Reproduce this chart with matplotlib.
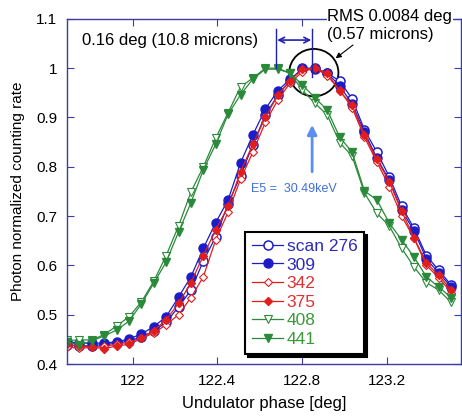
import numpy as np
import matplotlib.pyplot as plt
from matplotlib.patches import Ellipse

plt.rcParams['font.family'] = ['Liberation Sans', 'DejaVu Sans']

# scan points (undulator phase, deg)
phase = 121.69 + 0.0585 * np.arange(32)

scan276 = [0.438, 0.437, 0.437, 0.440, 0.442, 0.447, 0.455, 0.467, 0.485, 0.516,
           0.550, 0.609, 0.658, 0.725, 0.782, 0.845, 0.905, 0.945, 0.975, 1.000,
           1.000, 0.990, 0.974, 0.938, 0.875, 0.830, 0.780, 0.720, 0.675, 0.620,
           0.590, 0.560]
scan309 = [0.445, 0.443, 0.442, 0.443, 0.445, 0.451, 0.461, 0.476, 0.496, 0.536,
           0.577, 0.635, 0.687, 0.733, 0.808, 0.865, 0.917, 0.954, 0.978, 0.998,
           0.998, 0.990, 0.964, 0.928, 0.870, 0.818, 0.773, 0.712, 0.670, 0.613,
           0.585, 0.556]
scan342 = [0.435, 0.432, 0.434, 0.436, 0.440, 0.445, 0.452, 0.463, 0.480, 0.500,
           0.535, 0.577, 0.652, 0.708, 0.775, 0.830, 0.890, 0.935, 0.970, 0.993,
           1.000, 0.985, 0.955, 0.920, 0.860, 0.810, 0.760, 0.700, 0.655, 0.600,
           0.575, 0.545]
scan375 = [0.440, 0.437, 0.435, 0.431, 0.437, 0.440, 0.452, 0.468, 0.490, 0.523,
           0.565, 0.620, 0.672, 0.720, 0.790, 0.846, 0.900, 0.945, 0.975, 0.998,
           1.000, 0.990, 0.954, 0.925, 0.865, 0.815, 0.770, 0.710, 0.656, 0.605,
           0.580, 0.550]
scan408 = [0.448, 0.449, 0.449, 0.460, 0.477, 0.496, 0.526, 0.568, 0.620, 0.680,
           0.749, 0.800, 0.858, 0.910, 0.962, 0.980, 1.000, 1.000, 0.990, 0.955,
           0.929, 0.905, 0.849, 0.822, 0.747, 0.706, 0.680, 0.635, 0.597, 0.565,
           0.550, 0.525]
scan441 = [0.445, 0.439, 0.447, 0.457, 0.469, 0.487, 0.522, 0.564, 0.607, 0.668,
           0.727, 0.794, 0.846, 0.907, 0.946, 0.978, 0.998, 0.998, 0.990, 0.966,
           0.940, 0.915, 0.860, 0.830, 0.751, 0.733, 0.686, 0.652, 0.617, 0.577,
           0.556, 0.535]

labels = ['scan 276', '309', '342', '375', '408', '441']
series = [scan276, scan309, scan342, scan375, scan408, scan441]

blue = '#1c1cc8'
red = '#e01e1e'
green = '#2a8a3a'
styles = [
    dict(color=blue, marker='o', mfc='white', ms=6.5, mew=1.1),
    dict(color=blue, marker='o', mfc=blue, ms=6.5),
    dict(color=red, marker='D', mfc='white', ms=4.2, mew=0.8),
    dict(color=red, marker='D', mfc=red, ms=4.2),
    dict(color=green, marker='v', mfc='white', ms=6, mew=0.8),
    dict(color=green, marker='v', mfc=green, ms=6),
]

fig = plt.figure(figsize=(4.62, 4.19), dpi=100)
ax = fig.add_axes([0.145, 0.131, 0.853, 0.824])

for y, lab, st in zip(series, labels, styles):
    ax.plot(phase, y, lw=0.9, label=lab, clip_on=True, **st)

ax.set_xlim(121.69, 123.55)
ax.set_ylim(0.4, 1.1)
ax.set_xticks([122, 122.4, 122.8, 123.2])
ax.set_xticklabels(['122', '122.4', '122.8', '123.2'])
ax.set_yticks([0.4, 0.5, 0.6, 0.7, 0.8, 0.9, 1.0, 1.1])
ax.set_yticklabels(['0.4', '0.5', '0.6', '0.7', '0.8', '0.9', '1', '1.1'])
spine_col = '#3c3ca8'
for s in ax.spines.values():
    s.set_color(spine_col)
    s.set_linewidth(1.0)
ax.tick_params(direction='in', top=True, right=True, length=5, color=spine_col,
               labelsize=11, pad=7)
ax.set_xlabel('Undulator phase [deg]', fontsize=12, labelpad=6)
ax.set_ylabel('Photon normalized counting rate', fontsize=11, labelpad=8)

# peak shift annotation
dk = '#2020b0'
ax.plot([122.678, 122.678], [1.0, 1.08], color=dk, lw=1)
ax.plot([122.847, 122.847], [0.983, 1.08], color=dk, lw=1)
ax.annotate('', xy=(122.682, 1.057), xytext=(122.843, 1.057),
            arrowprops=dict(arrowstyle='<->', color=dk, lw=1.2, shrinkA=0, shrinkB=0))
ax.text(121.76, 1.057, '0.16 deg (10.8 microns)', fontsize=12, va='center', ha='left')

ax.add_patch(Ellipse((122.855, 0.991), 0.232, 0.096, fill=False, ec='black', lw=1.3))
ax.annotate('', xy=(122.958, 1.02), xytext=(123.04, 1.047),
            arrowprops=dict(arrowstyle='-|>', color='black', lw=0.8,
                            mutation_scale=8, shrinkA=0, shrinkB=0))
ax.text(122.918, 1.087, 'RMS 0.0084 deg\n(0.57 microns)', fontsize=12, va='center',
        ha='left', linespacing=1.25,
        bbox=dict(facecolor='white', edgecolor='none', pad=0.5), clip_on=False)

lb = '#5a8ef0'
ax.annotate('', xy=(122.847, 0.885), xytext=(122.847, 0.79),
            arrowprops=dict(arrowstyle='-|>', color=lb, lw=2, mutation_scale=14,
                            shrinkA=0, shrinkB=0))
ax.text(122.56, 0.755, 'E5 =  30.49keV', fontsize=9, color='#3f6fe0', va='center')

leg = ax.legend(loc='lower left', bbox_to_anchor=(245 / 462, 1 - 354 / 419),
                bbox_transform=fig.transFigure, fontsize=12.5, frameon=True,
                fancybox=False, shadow=dict(color='black', alpha=1),
                edgecolor='black', handlelength=1.8, handletextpad=0.2,
                labelspacing=0.2, borderpad=0.4, borderaxespad=0)
leg.get_frame().set_linewidth(1.5)
text_cols = ['#2a2ab8', '#2a2ab8', '#e03030', '#e03030', '#3a9a3a', '#3a9a3a']
for t, c in zip(leg.get_texts(), text_cols):
    t.set_color(c)

fig.savefig('out.png', dpi=100)
